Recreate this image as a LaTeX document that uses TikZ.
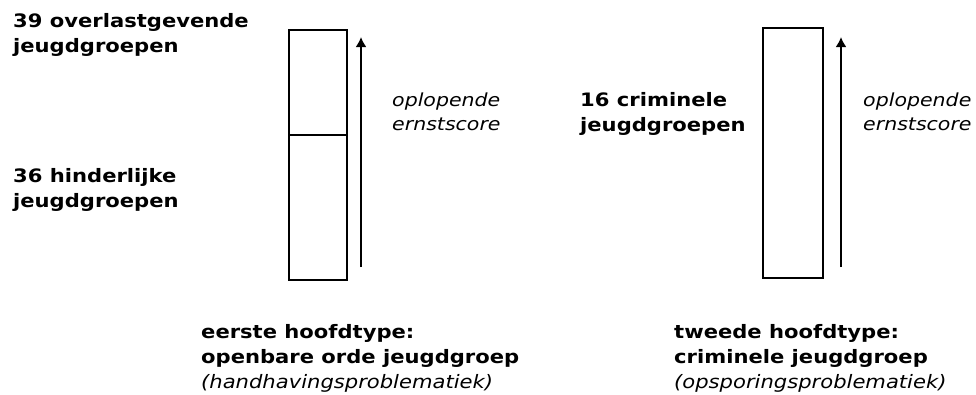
\documentclass[tikz,border=0pt]{standalone}
\usepackage{fontspec}
\setmainfont{DejaVu Sans}
\newfontfamily\labelfont[FakeStretch=1.14]{DejaVu Sans}
\usetikzlibrary{shapes,arrows,positioning,calc,arrows.meta}

\tikzset{
    grouplabel/.style={anchor=base west, inner sep=0pt, align=left,
        font=\fontsize{18.5}{25}\selectfont\labelfont\bfseries},
    scorelabel/.style={anchor=base west, inner sep=0pt, align=left,
        font=\fontsize{18}{24}\selectfont\labelfont\itshape},
    column/.style={draw, line width=2.5pt},
    scale arrow/.style={-{Latex[length=10pt,width=11pt]}, line width=2pt}
}

\begin{document}
\begin{tikzpicture}[x=1pt, y=-1pt]
    \useasboundingbox (0,0) rectangle (976,394);

    % first type
    \draw[column] (289,30) rectangle (347,280);
    \draw[column] (289,135) -- (347,135);
    \coordinate (lowA) at (361,267);
    \coordinate (highA) at (361,37);
    \draw[scale arrow] (lowA) -- (highA);

    \node (overlast) at (13,52) [grouplabel] {39 overlastgevende\\jeugdgroepen};
    \node (hinder) at (13,207) [grouplabel] {36 hinderlijke\\jeugdgroepen};
    \node (scoreA) at (392,130) [scorelabel] {oplopende\\ernstscore};
    \node (typeA) at (201,388) [grouplabel]
        {eerste hoofdtype:\\openbare orde jeugdgroep\\\mdseries\itshape(handhavingsproblematiek)};

    % second type
    \draw[column] (763,28) rectangle (823,278);
    \coordinate (lowB) at (841,267);
    \coordinate (highB) at (841,37);
    \draw[scale arrow] (lowB) -- (highB);

    \node (crimineel) at (580,131) [grouplabel] {16 criminele\\jeugdgroepen};
    \node (scoreB) at (863,130) [scorelabel] {oplopende\\ernstscore};
    \node (typeB) at (674,388) [grouplabel]
        {tweede hoofdtype:\\criminele jeugdgroep\\\mdseries\itshape(opsporingsproblematiek)};
\end{tikzpicture}
\end{document}
